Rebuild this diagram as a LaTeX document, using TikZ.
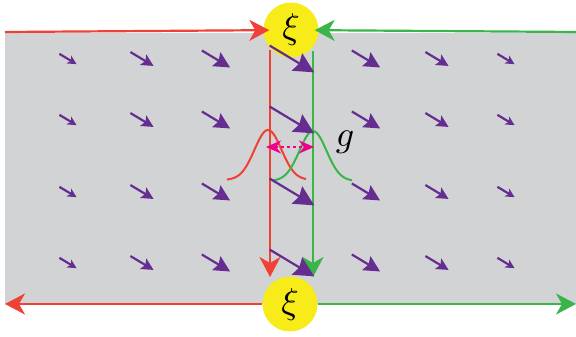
\documentclass[tikz,border=0pt]{standalone}
\definecolor{xired}{RGB}{239, 65, 54}
\definecolor{xigreen}{RGB}{57, 181, 74}
\definecolor{fieldpurple}{RGB}{102, 45, 145}
\definecolor{xiyellow}{RGB}{247, 236, 25}
\definecolor{bandgray}{RGB}{209, 211, 212}
\definecolor{gapmagenta}{RGB}{236, 0, 140}
\usetikzlibrary{arrows.meta}
\newcommand{\bigsym}[1]{\scalebox{3.6}{$#1$}}

\begin{document}
\begin{tikzpicture}[x=1pt, y=-1pt,
    wire/.style={line width=2.2pt},
    bighead/.style={-{Stealth[length=20pt, width=21pt, inset=6pt]}},
    bump/.style={line width=2pt, smooth, samples=60},
    xi/.style={circle, fill=xiyellow, minimum size=55pt, inner sep=0pt},
    field/.style={fieldpurple, line width=2.2pt}]
  \useasboundingbox (0,0) rectangle (576,337);
  \fill[bandgray] (5,33) rectangle (576,304);

  \node[xi] (topxi) at (291,30) {\bigsym{\xi}};
  \node[xi] (botxi) at (290,304) {\bigsym{\xi}};

  \coordinate (redtop) at (270,50);
  \coordinate (redbot) at (270,277);
  \coordinate (greentop) at (313,51);
  \coordinate (greenbot) at (313,277);
  \draw[wire, xired, bighead] (redtop) -- (redbot);
  \draw[wire, xigreen, bighead] (greentop) -- (greenbot);

  \draw[bump, xired] plot[domain=-41:38] ({268+\x}, {180-50*exp(-(\x*\x)/364)});
  \draw[bump, xigreen] plot[domain=-40:39] ({313+\x}, {181-50*exp(-(\x*\x)/364)});

  \foreach \cx/\len/\tip in {68/20/9pt, 142/27/12pt, 216/33/16pt, 292/52/20pt, 366/33/16pt, 437/27/12pt, 506/20/9pt}
    \foreach \cy in {59, 120, 192, 263}
      \draw[field, -{Stealth[length=\tip, width=\tip, inset=2.5pt]}]
        ({\cx-0.429*\len}, {\cy-0.258*\len}) -- ++(31:\len);

  \coordinate (gapL) at (266,147);
  \coordinate (gapR) at (314,147);
  \draw[gapmagenta, line width=2.5pt, dash pattern=on 3pt off 3pt,
    {Stealth[length=15pt, width=13pt]}-{Stealth[length=15pt, width=13pt]}] (gapL) -- (gapR);
  \node (glabel) at (345,142) {\bigsym{g}};

  \coordinate (topL) at (5,32);
  \coordinate (topR) at (576,32);
  \coordinate (botL) at (5,304);
  \coordinate (botR) at (576,304);
  \draw[wire, xired, bighead, shorten >=-6pt] (topL) -- (topxi);
  \draw[wire, xigreen, bighead, shorten >=-4pt] (topR) -- (topxi);
  \draw[wire, xired, bighead] (botxi) -- (botL);
  \draw[wire, xigreen, bighead] (botxi) -- (botR);
\end{tikzpicture}
\end{document}
